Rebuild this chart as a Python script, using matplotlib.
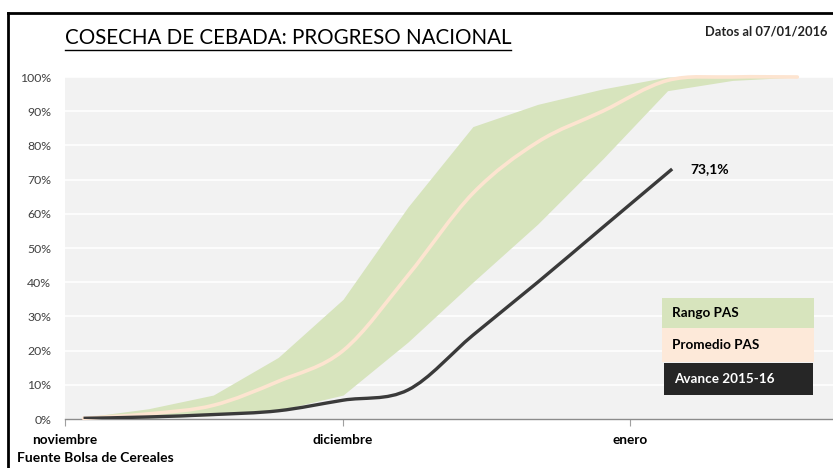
import matplotlib
matplotlib.use("Agg")
import matplotlib.pyplot as plt
from matplotlib.path import Path
from matplotlib.patches import PathPatch, Rectangle
from matplotlib.lines import Line2D
import numpy as np

plt.rcParams['font.family'] = ['Lato', 'DejaVu Sans']

# ---- data (days since 1 November 2015) ----
days = [2, 9, 16, 23, 30, 37, 44, 51, 58, 65, 72, 79]
rango_min = [0.000, 0.003, 0.010, 0.025, 0.070, 0.225, 0.400, 0.570, 0.760, 0.960, 0.990, 1.000]
rango_max = [0.005, 0.030, 0.070, 0.180, 0.350, 0.620, 0.855, 0.920, 0.965, 1.000, 1.000, 1.000]
promedio = [0.002, 0.015, 0.040, 0.110, 0.200, 0.420, 0.660, 0.810, 0.900, 0.990, 1.000, 1.000]
avance_days = [2, 9, 16, 23, 30, 37, 44, 51, 58, 65.5]
avance = [0.002, 0.006, 0.013, 0.024, 0.055, 0.085, 0.245, 0.400, 0.560, 0.731]

month_ticks = [0, 30, 61]
month_labels = ['noviembre', 'diciembre', 'enero']
y_ticks = [i / 10 for i in range(11)]
y_labels = [f'{i * 10}%' for i in range(11)]


def smooth_path(xs, ys):
    pts = np.column_stack([xs, ys])
    n = len(pts)
    verts = [pts[0]]
    codes = [Path.MOVETO]
    for i in range(n - 1):
        p0 = pts[i - 1] if i > 0 else pts[i]
        p1 = pts[i]
        p2 = pts[i + 1]
        p3 = pts[i + 2] if i + 2 < n else pts[i + 1]
        c1 = p1 + (p2 - p0) / 6.0
        c2 = p2 - (p3 - p1) / 6.0
        verts += [c1, c2, p2]
        codes += [Path.CURVE4] * 3
    return Path(verts, codes)


fig = plt.figure(figsize=(8.33, 4.68), dpi=100)
ax = fig.add_axes([65 / 833, 49 / 468, 768 / 833, 342 / 468])
ax.set_facecolor('#f2f2f2')
ax.set_xlim(0, 82.85)
ax.set_ylim(0, 1)

for yv in y_ticks[1:]:
    ax.axhline(yv, color='white', lw=1.2, zorder=1)

ax.fill_between(days, rango_min, rango_max, color='#d7e4bd', lw=0, zorder=2)
ax.add_patch(PathPatch(smooth_path(days, promedio), fill=False, edgecolor='#fde4d0',
                       lw=2.6, zorder=3, clip_on=False, capstyle='round'))
ax.add_patch(PathPatch(smooth_path(avance_days, avance), fill=False, edgecolor='#3a3a3a',
                       lw=2.4, zorder=4, capstyle='butt'))

ax.text(avance_days[-1] + 2, avance[-1], '73,1%', fontsize=10, fontweight='bold',
        color='black', va='center', ha='left', zorder=5)

for s in ['top', 'right', 'left']:
    ax.spines[s].set_visible(False)
ax.spines['bottom'].set_color('#8c8c8c')
ax.spines['bottom'].set_linewidth(1.0)

ax.set_yticks(y_ticks)
ax.set_yticklabels(y_labels, fontsize=8.8, color='#404040')
ax.tick_params(axis='y', length=0, pad=10)
ax.set_xticks(month_ticks)
ax.set_xticklabels(month_labels, fontsize=9.8, fontweight='bold', color='black')
ax.tick_params(axis='x', length=5, color='#a0a0a0', pad=6)

# legend boxes
leg = [('Rango PAS', '#d7e4bd', 'black', 0.777, 0.975, 0.266, 0.354),
       ('Promedio PAS', '#fde9d9', 'black', 0.777, 0.975, 0.167, 0.266),
       ('Avance 2015-16', '#262626', 'white', 0.780, 0.974, 0.070, 0.164)]
for label, fc, tc, x0, x1, y0, y1 in leg:
    ax.add_patch(Rectangle((x0, y0), x1 - x0, y1 - y0, transform=ax.transAxes,
                           facecolor=fc, edgecolor='none', zorder=6))
    ax.text(x0 + 0.013, (y0 + y1) / 2, label, transform=ax.transAxes, fontsize=9.7,
            fontweight='bold', color=tc, va='center', ha='left', zorder=7)

# titles and notes
title = fig.text(65 / 833, 1 - 38 / 468, 'COSECHA DE CEBADA: PROGRESO NACIONAL',
                 fontsize=14.8, color='black', va='center', ha='left')
fig.text(827 / 833, 1 - 32 / 468, 'Datos al 07/01/2016', fontsize=9.3, fontweight='bold',
         color='#222222', va='center', ha='right')
fig.text(17 / 833, 1 - 458 / 468, 'Fuente Bolsa de Cereales', fontsize=10,
         fontweight='bold', color='black', va='center', ha='left')

# underline title
fig.canvas.draw()
bb = title.get_window_extent().transformed(fig.transFigure.inverted())
fig.add_artist(Line2D([bb.x0, bb.x1], [bb.y0 - 0.004, bb.y0 - 0.004],
                      transform=fig.transFigure, color='black', lw=1))

# frame (left and top borders)
fig.add_artist(Line2D([8 / 833, 1.0], [1 - 13 / 468, 1 - 13 / 468],
                      transform=fig.transFigure, color='black', lw=2))
fig.add_artist(Line2D([8 / 833, 8 / 833], [0, 1 - 13 / 468],
                      transform=fig.transFigure, color='black', lw=2))

fig.savefig('out.png', dpi=100, facecolor='white')
